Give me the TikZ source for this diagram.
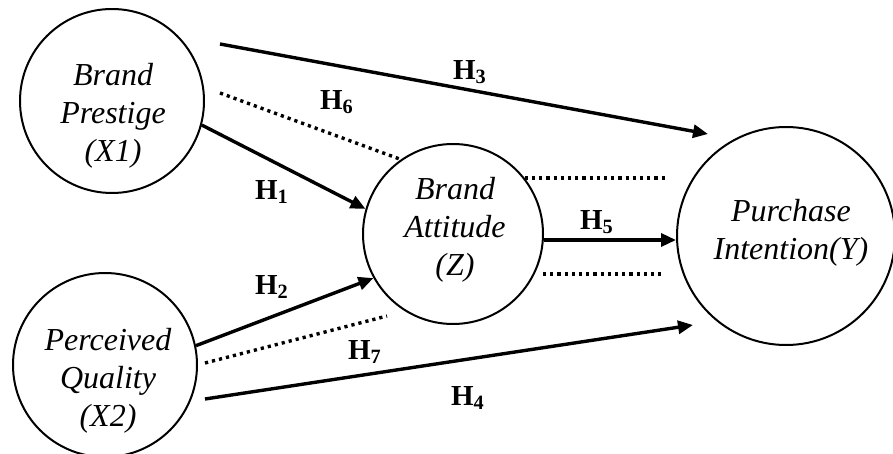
\documentclass[tikz,border=0pt]{standalone}
\usepackage{fontspec}
\setmainfont{Liberation Serif}
\usetikzlibrary{arrows.meta}

\begin{document}
\begin{tikzpicture}[
    x=0.5pt, y=-0.5pt,
    % Styles for constructs, their names and the hypothesis paths
    construct/.style={circle, draw=black, line width=1pt, inner sep=0pt},
    varname/.style={align=center, inner sep=0pt, font=\fontsize{16}{18.9}\selectfont\itshape},
    hyp/.style={inner sep=0pt, font=\fontsize{14.5}{16}\selectfont\bfseries},
    effect/.style={line width=1.7pt, -{Triangle[length=7.5pt, width=6.5pt]}},
    mediation/.style={line width=1.7pt, dash pattern=on 1.6pt off 2pt}
]
  \useasboundingbox (0,0) rectangle (893,454);

  % --- CONSTRUCTS ---
  \node[construct, minimum size=92pt] (prestige) at (112,101) {};
  \node[varname] (prestigetxt) at (113,116) {Brand\\Prestige\\(X1)};

  \node[construct, minimum size=92pt] (quality) at (105,365) {};
  \node[varname] (qualitytxt) at (108,381) {Perceived\\Quality\\(X2)};

  \node[construct, minimum size=90pt] (attitude) at (453,234) {};
  \node[varname] (attitudetxt) at (455,230) {Brand\\Attitude\\(Z)};

  \node[construct, minimum size=109pt] (intention) at (786,236) {};
  \node[varname] (intentiontxt) at (791,233) {Purchase\\Intention(Y)};

  % --- FREE ENDS OF THE PATHS ---
  \coordinate (h3s) at (220,44);
  \coordinate (h3e) at (708,134);
  \coordinate (h4s) at (205,399);
  \coordinate (h4e) at (693,325);
  \coordinate (h6s) at (220,93);
  \coordinate (h7s) at (205,363);
  \coordinate (h7e) at (387,316);
  \coordinate (mupe) at (667,176);
  \coordinate (mlos) at (543,274);
  \coordinate (mloe) at (662,274);

  % --- DIRECT EFFECTS ---
  \draw[effect] (prestige.-15) -- (attitude.164);
  \draw[effect] (quality.12) -- (attitude.209);
  \draw[effect] (h3s) -- (h3e);
  \draw[effect] (h4s) -- (h4e);
  \draw[effect] ([yshift=-3pt]attitude.east) -- ([yshift=-3pt]attitude.east -| intention.west);

  % --- MEDIATED EFFECTS ---
  \draw[mediation] (h6s) -- (attitude.125);
  \draw[mediation] (h7s) -- (h7e);
  \draw[mediation] (attitude.38) -- (attitude.38 -| mupe);
  \draw[mediation] (mlos) -- (mloe);

  % --- HYPOTHESIS LABELS ---
  \node[hyp] (h1) at (272,192) {H\textsubscript{1}};
  \node[hyp] (h2) at (272,287) {H\textsubscript{2}};
  \node[hyp] (h3) at (470,72) {H\textsubscript{3}};
  \node[hyp] (h4) at (468,398) {H\textsubscript{4}};
  \node[hyp] (h5) at (597,222) {H\textsubscript{5}};
  \node[hyp] (h6) at (337,102) {H\textsubscript{6}};
  \node[hyp] (h7) at (365,352) {H\textsubscript{7}};

\end{tikzpicture}
\end{document}
